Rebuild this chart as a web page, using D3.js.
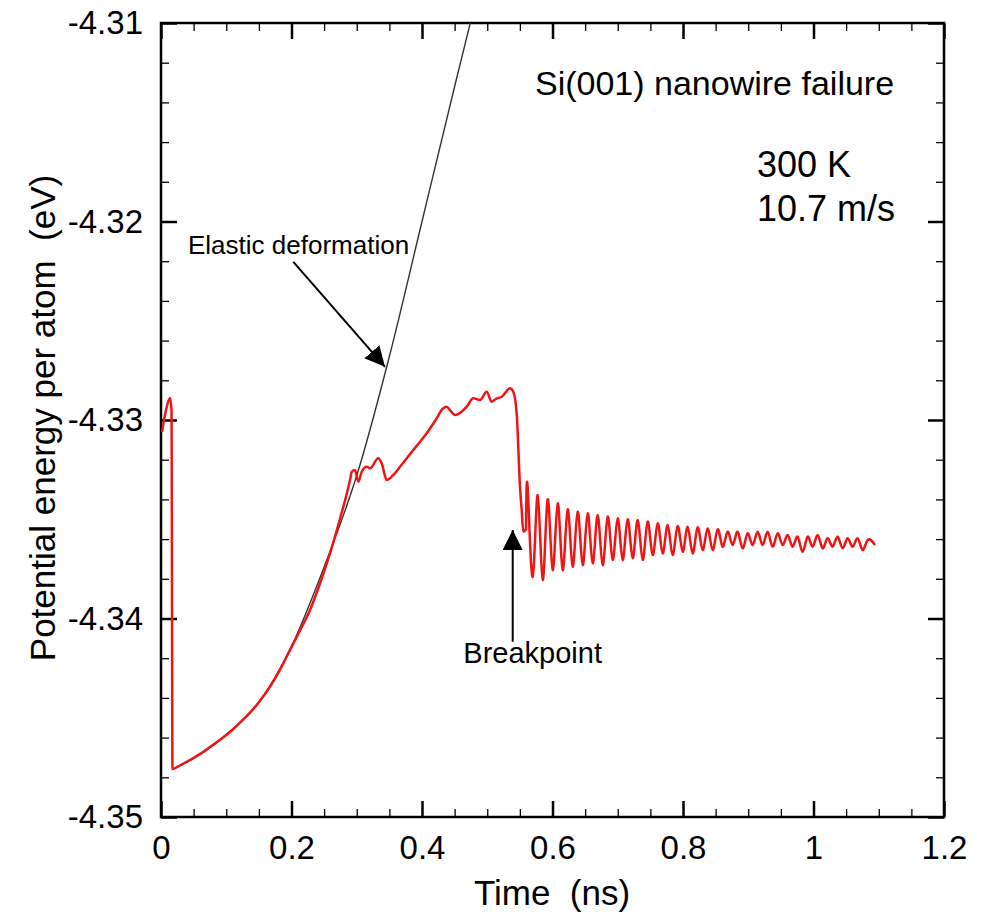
<!DOCTYPE html>
<html>
<head>
<meta charset="utf-8">
<script src="https://cdn.jsdelivr.net/npm/d3@7"></script>
<style>
  body { margin: 0; background: #fff; }
  text { font-family: "Liberation Sans", Arial, Helvetica, sans-serif; fill: #000; }
</style>
</head>
<body>
<div id="chart"></div>
<script>
// tick values / labels
const xTicks = [0, 0.2, 0.4, 0.6, 0.8, 1, 1.2]
const xTickLabels = ["0", "0.2", "0.4", "0.6", "0.8", "1", "1.2"]
const xMinorTicks = [0.05, 0.1, 0.15, 0.25, 0.3, 0.35, 0.45, 0.5, 0.55, 0.65, 0.7, 0.75, 0.85, 0.9, 0.95, 1.05, 1.1, 1.15]
const yTicks = [-4.35, -4.34, -4.33, -4.32, -4.31]
const yTickLabels = ["-4.35", "-4.34", "-4.33", "-4.32", "-4.31"]
const yMinorTicks = [-4.348, -4.346, -4.344, -4.342, -4.338, -4.336, -4.334, -4.332, -4.328, -4.326, -4.324, -4.322, -4.318, -4.316, -4.314, -4.312]

// elastic deformation reference curve  [time (ns), energy (eV)]
const elasticCurve = [
  [0.018, -4.3476], [0.05, -4.34705], [0.1, -4.34585], [0.15, -4.34422], [0.2, -4.3414],
  [0.25, -4.3374], [0.3, -4.3328], [0.35, -4.3268], [0.4, -4.3200], [0.45, -4.3132],
  [0.474, -4.3100], [0.48, -4.3092]
]

// MD run: loading, yield, failure
const loadingCurve = [
  [0.0015, -4.33061], [0.0077, -4.32950], [0.0138, -4.32889], [0.0161, -4.32950], [0.0176, -4.34758],
  [0.0300, -4.34738], [0.0444, -4.34713], [0.0600, -4.34682], [0.0750, -4.34648], [0.0900, -4.34612],
  [0.1057, -4.34572], [0.1200, -4.34528], [0.1364, -4.34474], [0.1500, -4.34422], [0.1670, -4.34344],
  [0.1820, -4.34260], [0.1977, -4.34159], [0.2130, -4.34060], [0.2284, -4.33957], [0.2440, -4.33820],
  [0.2590, -4.33672], [0.2750, -4.33490], [0.2897, -4.33302], [0.2923, -4.33261], [0.2973, -4.33252],
  [0.3024, -4.33311], [0.3076, -4.33261], [0.3153, -4.33235], [0.3203, -4.33243], [0.3330, -4.33193],
  [0.3382, -4.33218], [0.3459, -4.33302], [0.3560, -4.33277], [0.3700, -4.33220], [0.3867, -4.33151],
  [0.3970, -4.33110], [0.4072, -4.33067], [0.4200, -4.33005], [0.4326, -4.32941], [0.4379, -4.32933],
  [0.4429, -4.32950], [0.4506, -4.32975], [0.4685, -4.32933], [0.4786, -4.32891], [0.4889, -4.32899],
  [0.4992, -4.32858], [0.5068, -4.32908], [0.5145, -4.32891], [0.5221, -4.32883], [0.5349, -4.32840],
  [0.5399, -4.32858], [0.5451, -4.32966], [0.5502, -4.33336], [0.5528, -4.33454], [0.5553, -4.33563],
  [0.5594, -4.33554]
]

// ringing after the break: alternating crest / trough
const ringingCurve = [
  [0.5620, -4.33344], [0.5697, -4.33790], [0.5773, -4.33378], [0.5850, -4.33806], [0.5926, -4.33400],
  [0.6003, -4.33756], [0.6080, -4.33420], [0.6156, -4.33756], [0.6233, -4.33450], [0.6309, -4.33739],
  [0.6386, -4.33462], [0.6463, -4.33731], [0.6539, -4.33470], [0.6616, -4.33722], [0.6692, -4.33479],
  [0.6769, -4.33731], [0.6846, -4.33487], [0.6922, -4.33705], [0.6999, -4.33495], [0.7075, -4.33705],
  [0.7152, -4.33500], [0.7229, -4.33697], [0.7305, -4.33504], [0.7382, -4.33705], [0.7458, -4.33512],
  [0.7535, -4.33680], [0.7612, -4.33521], [0.7688, -4.33672], [0.7765, -4.33529], [0.7841, -4.33680],
  [0.7918, -4.33534], [0.7995, -4.33664], [0.8071, -4.33538], [0.8148, -4.33672], [0.8224, -4.33541],
  [0.8301, -4.33655], [0.8378, -4.33546], [0.8454, -4.33655], [0.8531, -4.33551], [0.8607, -4.33638],
  [0.8684, -4.33563], [0.8761, -4.33630], [0.8837, -4.33563], [0.8914, -4.33646], [0.8990, -4.33571],
  [0.9067, -4.33630], [0.9144, -4.33563], [0.9220, -4.33630], [0.9297, -4.33563], [0.9373, -4.33638],
  [0.9450, -4.33571], [0.9527, -4.33630], [0.9603, -4.33579], [0.9680, -4.33638], [0.9756, -4.33588],
  [0.9833, -4.33664], [0.9910, -4.33588], [0.9986, -4.33638], [1.0063, -4.33579], [1.0139, -4.33646],
  [1.0216, -4.33596], [1.0293, -4.33638], [1.0369, -4.33588], [1.0446, -4.33646], [1.0522, -4.33596],
  [1.0599, -4.33638], [1.0676, -4.33596], [1.0752, -4.33655], [1.0829, -4.33605], [1.0943, -4.33630]
]

// annotation arrows [from, to] in data units
const elasticArrow = [[0.2028, -4.32203], [0.3433, -4.32732]]
const breakArrow = [[0.539, -4.34117], [0.539, -4.33554]]

const width = 987,
    height = 912

const svg = d3.select("#chart")
    .append("svg")
    .attr("width", width)
    .attr("height", height)

const x = d3.scaleLinear().domain([0, 1.2]).range([161, 944])
const y = d3.scaleLinear().domain([-4.35, -4.31]).range([817, 23])

svg.append("clipPath").attr("id", "plotclip")
    .append("rect")
    .attr("x", 161).attr("y", 23)
    .attr("width", 944 - 161).attr("height", 817 - 23)

// ticks on all four sides, pointing in
function ticks(axisGen, tr, vals, len, sw, fmt) {
    const g = svg.append("g")
        .attr("transform", tr)
        .call(axisGen.tickValues(vals).tickSize(-len).tickFormat(fmt || (() => "")))
    g.select(".domain").remove()
    g.selectAll("line").attr("stroke", "#000").attr("stroke-width", sw)
    return g
}

ticks(d3.axisBottom(x), "translate(0,817)", xMinorTicks, 8, 1.3)
ticks(d3.axisTop(x), "translate(0,23)", xMinorTicks, 8, 1.3)
ticks(d3.axisLeft(y), "translate(161,0)", yMinorTicks, 8, 1.3)
ticks(d3.axisRight(y), "translate(944,0)", yMinorTicks, 8, 1.3)
ticks(d3.axisTop(x), "translate(0,23)", xTicks, 16, 2.5)
ticks(d3.axisRight(y), "translate(944,0)", yTicks, 16, 2.5)

ticks(d3.axisBottom(x).tickPadding(19), "translate(0,817)", xTicks, 16, 2.5,
    (d, i) => xTickLabels[i])
ticks(d3.axisLeft(y).tickPadding(18), "translate(161,0)", yTicks, 16, 2.5,
    (d, i) => yTickLabels[i])
svg.selectAll(".tick text")
    .attr("font-size", 33)
    .attr("font-family", "'Liberation Sans', Arial, sans-serif")
    .attr("fill", "#000")

// frame
svg.append("rect")
    .attr("x", 161).attr("y", 23)
    .attr("width", 944 - 161).attr("height", 817 - 23)
    .attr("fill", "none")
    .attr("stroke", "#000")
    .attr("stroke-width", 2.5)

const line = d3.line()
    .x(d => x(d[0]))
    .y(d => y(d[1]))

svg.append("path")
    .datum(elasticCurve)
    .attr("clip-path", "url(#plotclip)")
    .attr("d", line.curve(d3.curveMonotoneX))
    .attr("fill", "none")
    .attr("stroke", "#333")
    .attr("stroke-width", 1.4)

svg.append("path")
    .datum(loadingCurve)
    .attr("clip-path", "url(#plotclip)")
    .attr("d", line.curve(d3.curveMonotoneX))
    .attr("fill", "none")
    .attr("stroke", "#f01414")
    .attr("stroke-width", 2.5)
    .attr("stroke-linejoin", "round")

svg.append("path")
    .datum(loadingCurve.slice(-1).concat(ringingCurve))
    .attr("clip-path", "url(#plotclip)")
    .attr("d", line.curve(d3.curveNatural))
    .attr("fill", "none")
    .attr("stroke", "#f01414")
    .attr("stroke-width", 2.5)
    .attr("stroke-linejoin", "round")

// arrows
svg.append("defs").append("marker")
    .attr("id", "head")
    .attr("viewBox", "0 0 20 20")
    .attr("refX", 20).attr("refY", 10)
    .attr("markerWidth", 20).attr("markerHeight", 20)
    .attr("markerUnits", "userSpaceOnUse")
    .attr("orient", "auto")
    .append("path")
    .attr("d", "M0,0L20,10L0,20Z")
    .attr("fill", "#000")

;[elasticArrow, breakArrow].forEach(a => {
    svg.append("line")
        .attr("x1", x(a[0][0])).attr("y1", y(a[0][1]))
        .attr("x2", x(a[1][0])).attr("y2", y(a[1][1]))
        .attr("stroke", "#000")
        .attr("stroke-width", 2)
        .attr("marker-end", "url(#head)")
})

// labels
svg.append("text")
    .attr("x", x(0.0414)).attr("y", y(-4.32164))
    .attr("font-size", 26)
    .text("Elastic deformation")

svg.append("text")
    .attr("x", x(0.4633)).attr("y", y(-4.34224))
    .attr("font-size", 29)
    .text("Breakpoint")

svg.append("text")
    .attr("x", x(0.5732)).attr("y", y(-4.31363))
    .attr("font-size", 34)
    .text("Si(001) nanowire failure")

svg.append("text")
    .attr("x", x(0.9134)).attr("y", y(-4.31776))
    .attr("font-size", 36)
    .text("300 K")

svg.append("text")
    .attr("x", x(0.9134)).attr("y", y(-4.31998))
    .attr("font-size", 36)
    .text("10.7 m/s")

svg.append("text")
    .attr("x", 552).attr("y", 905)
    .attr("text-anchor", "middle")
    .attr("font-size", 35)
    .attr("xml:space", "preserve")
    .text("Time  (ns)")

svg.append("text")
    .attr("transform", "translate(55,418) rotate(-90)")
    .attr("text-anchor", "middle")
    .attr("font-size", 35)
    .attr("xml:space", "preserve")
    .text("Potential energy per atom  (eV)")
</script>
</body>
</html>
